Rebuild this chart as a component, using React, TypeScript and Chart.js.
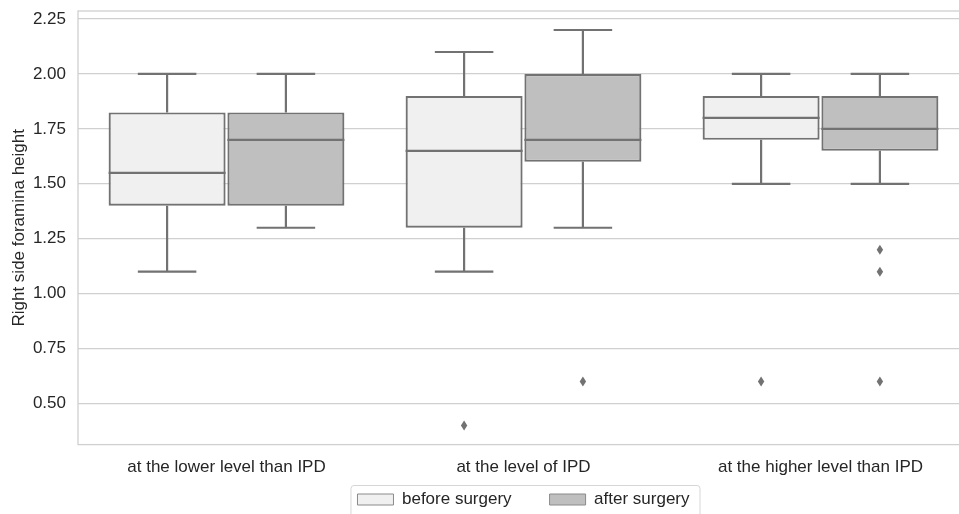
import React, { useEffect, useRef } from "react";
import { Chart, registerables } from "chart.js";

Chart.register(...registerables);

const CATEGORIES = ["at the lower level than IPD", "at the level of IPD", "at the higher level than IPD"];
const SERIES = ["before surgery", "after surgery"];

const BEFORE_LO = [1.1, 1.1, 1.5];
const BEFORE_Q1 = [1.4, 1.3, 1.7];
const BEFORE_MED = [1.55, 1.65, 1.8];
const BEFORE_Q3 = [1.825, 1.9, 1.9];
const BEFORE_HI = [2.0, 2.1, 2.0];
const BEFORE_OUT: number[][] = [[], [0.4], [0.6]];

const AFTER_LO = [1.3, 1.3, 1.5];
const AFTER_Q1 = [1.4, 1.6, 1.65];
const AFTER_MED = [1.7, 1.7, 1.75];
const AFTER_Q3 = [1.825, 2.0, 1.9];
const AFTER_HI = [2.0, 2.2, 2.0];
const AFTER_OUT: number[][] = [[], [0.6], [1.2, 1.1, 0.6]];

const Y_TICKS = [0.5, 0.75, 1.0, 1.25, 1.5, 1.75, 2.0, 2.25];
const Y_MIN = 0.313;
const Y_MAX = 2.2865;

const FONT = "'Liberation Sans', Arial, sans-serif";
const LINE = "#727272";
const GRID = "#d0d0d0";
const TEXT = "#262626";

const STATS = [
  { lo: BEFORE_LO, med: BEFORE_MED, hi: BEFORE_HI, out: BEFORE_OUT },
  { lo: AFTER_LO, med: AFTER_MED, hi: AFTER_HI, out: AFTER_OUT },
];

const LEGEND_SHIFT = 38;

const boxPlugin = {
  id: "boxExtras",
  afterLayout(chart: any) {
    const lg = chart.legend;
    if (lg) {
      lg.top -= LEGEND_SHIFT;
      lg.bottom -= LEGEND_SHIFT;
    }
  },
  beforeDatasetsDraw(chart: any) {
    const { ctx, chartArea } = chart;
    ctx.save();
    ctx.strokeStyle = GRID;
    ctx.lineWidth = 1.3;
    ctx.strokeRect(chartArea.left, chartArea.top, chartArea.right - chartArea.left, chartArea.bottom - chartArea.top);
    ctx.restore();
  },
  afterDatasetsDraw(chart: any) {
    const { ctx } = chart;
    const y = chart.scales.y;
    ctx.save();
    ctx.strokeStyle = LINE;
    ctx.fillStyle = LINE;
    ctx.lineWidth = 2.2;
    ctx.lineCap = "butt";
    STATS.forEach((s, di) => {
      const meta = chart.getDatasetMeta(di);
      const ds = chart.data.datasets[di];
      meta.data.forEach((el: any, j: number) => {
        const x = el.x;
        const w = el.width;
        const [q1, q3] = ds.data[j];
        const pLo = y.getPixelForValue(s.lo[j]);
        const pHi = y.getPixelForValue(s.hi[j]);
        const pQ1 = y.getPixelForValue(q1);
        const pQ3 = y.getPixelForValue(q3);
        const pMed = y.getPixelForValue(s.med[j]);
        ctx.beginPath();
        ctx.moveTo(x, pQ3);
        ctx.lineTo(x, pHi);
        ctx.moveTo(x, pQ1);
        ctx.lineTo(x, pLo);
        ctx.moveTo(x - w / 4, pHi);
        ctx.lineTo(x + w / 4, pHi);
        ctx.moveTo(x - w / 4, pLo);
        ctx.lineTo(x + w / 4, pLo);
        ctx.moveTo(x - w / 2, pMed);
        ctx.lineTo(x + w / 2, pMed);
        ctx.stroke();
        s.out[j].forEach((v) => {
          const py = y.getPixelForValue(v);
          ctx.beginPath();
          ctx.moveTo(x, py - 5);
          ctx.lineTo(x + 3.2, py);
          ctx.lineTo(x, py + 5);
          ctx.lineTo(x - 3.2, py);
          ctx.closePath();
          ctx.fill();
        });
      });
    });
    ctx.restore();
  },
  afterDraw(chart: any) {
    const lg = chart.legend;
    if (!lg || !lg.legendHitBoxes || !lg.legendHitBoxes.length) return;
    const hb = lg.legendHitBoxes;
    const first = hb[0];
    const last = hb[hb.length - 1];
    const { ctx } = chart;
    const left = first.left - 6.5;
    const top = first.top - 5.5;
    const right = last.left + last.width + 10.5;
    const bottom = first.top + first.height + 14;
    const r = 3;
    ctx.save();
    ctx.strokeStyle = "#d6d6d6";
    ctx.lineWidth = 1;
    ctx.beginPath();
    ctx.moveTo(left + r, top);
    ctx.lineTo(right - r, top);
    ctx.quadraticCurveTo(right, top, right, top + r);
    ctx.lineTo(right, bottom - r);
    ctx.quadraticCurveTo(right, bottom, right - r, bottom);
    ctx.lineTo(left + r, bottom);
    ctx.quadraticCurveTo(left, bottom, left, bottom - r);
    ctx.lineTo(left, top + r);
    ctx.quadraticCurveTo(left, top, left + r, top);
    ctx.stroke();
    ctx.restore();
  },
};

export default function App() {
  const ref = useRef<HTMLCanvasElement | null>(null);
  useEffect(() => {
    document.documentElement.style.overflow = "hidden";
    document.body.style.overflow = "hidden";
    const canvas = ref.current;
    if (!canvas) return;
    const chart = new Chart(canvas, {
      type: "bar",
      data: {
        labels: CATEGORIES,
        datasets: [
          {
            label: SERIES[0],
            data: BEFORE_Q1.map((q, i) => [q, BEFORE_Q3[i]]) as any,
            backgroundColor: "#f0f0f0",
            borderColor: LINE,
            borderWidth: 2.2,
            borderSkipped: false,
            categoryPercentage: 0.8,
            barPercentage: 0.985,
          },
          {
            label: SERIES[1],
            data: AFTER_Q1.map((q, i) => [q, AFTER_Q3[i]]) as any,
            backgroundColor: "#bfbfbf",
            borderColor: LINE,
            borderWidth: 2.2,
            borderSkipped: false,
            categoryPercentage: 0.8,
            barPercentage: 0.985,
          },
        ],
      },
      options: {
        responsive: true,
        maintainAspectRatio: false,
        animation: false,
        layout: { padding: { left: 0, top: 11, right: 21, bottom: 0 } },
        plugins: {
          tooltip: { enabled: false },
          legend: {
            position: "bottom",
            fullSize: false,
            labels: {
              boxWidth: 36,
              boxHeight: 11,
              padding: 38,
              color: TEXT,
              font: { family: FONT, size: 17 },
              generateLabels: (c: any) =>
                Chart.defaults.plugins.legend.labels.generateLabels(c).map((l: any) => ({
                  ...l,
                  lineWidth: 1,
                  strokeStyle: "#8a8a8a",
                })),
            },
          },
        },
        scales: {
          x: {
            type: "category",
            grid: { display: false, drawTicks: false },
            border: { display: false },
            ticks: { color: TEXT, font: { family: FONT, size: 17 }, padding: 13, maxRotation: 0 },
          },
          y: {
            type: "linear",
            min: Y_MIN,
            max: Y_MAX,
            afterBuildTicks: (s: any) => {
              s.ticks = Y_TICKS.map((v) => ({ value: v }));
            },
            grid: { color: GRID, lineWidth: 1.3, drawTicks: false },
            border: { display: false },
            ticks: {
              color: TEXT,
              font: { family: FONT, size: 17 },
              padding: 12,
              callback: (v: any) => Number(v).toFixed(2),
            },
            title: {
              display: true,
              text: "Right side foramina height",
              color: TEXT,
              font: { family: FONT, size: 17 },
              padding: { top: 9, bottom: 0 },
            },
            afterFit: (s: any) => {
              s.width = 78;
              s.paddingTop = 0;
              s.paddingBottom = 0;
            },
          },
        },
      },
      plugins: [boxPlugin],
    });
    return () => chart.destroy();
  }, []);
  return (
    <div style={{ position: "absolute", left: 0, top: 0, width: 990, height: 556 }}>
      <canvas ref={ref} />
    </div>
  );
}
